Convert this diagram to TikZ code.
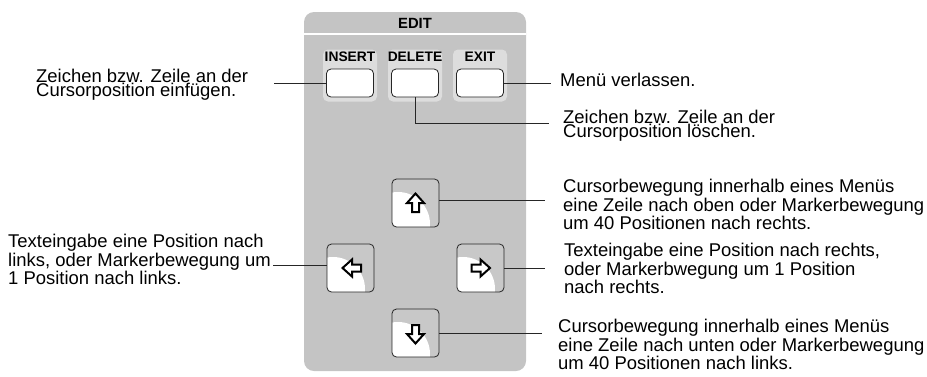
\documentclass[tikz,border=0pt]{standalone}
\usepackage{fontspec}
\setmainfont{Liberation Sans}
\usetikzlibrary{calc}
\definecolor{panelgray}{RGB}{196,196,196}
\definecolor{labelgray}{RGB}{221,221,221}
\definecolor{btngray}{RGB}{200,200,200}
\pgfdeclareradialshading{blob}{\pgfpoint{0bp}{0bp}}{color(0bp)=(white); color(36bp)=(white); color(44bp)=(btngray); color(50bp)=(btngray)}
\tikzset{
  desc/.style={anchor=north west, inner sep=0pt, align=left, font=\fontsize{18.45}{13.9}\selectfont},
  lbl/.style={inner sep=0pt, font=\fontsize{13.8}{14}\selectfont\bfseries},
  lblbox/.style={fill=labelgray, rounded corners=5pt, minimum width=54pt, minimum height=52pt, inner sep=0pt},
  keybtn/.style={draw=black!85, line width=0.8pt, fill=white, rounded corners=4.5pt, minimum width=47pt, minimum height=28pt, inner sep=0pt},
  arrbtn/.style={draw=black!85, line width=0.8pt, fill=btngray, rounded corners=4.5pt, minimum width=47pt, minimum height=48pt, inner sep=0pt,
    path picture={\shade[shading=blob] ($(path picture bounding box.south west)+(6,-3)$) circle (32pt);}},
  leader/.style={draw=black!85, line width=0.8pt},
  glyph/.style={draw=black, line width=2pt, fill=white, line join=miter},
  pics/blockarrow/.style={code={\path[glyph] (0,-9.5) -- (8.5,0) -- (3.5,0) -- (3.5,9) -- (-3.5,9) -- (-3.5,0) -- (-8.5,0) -- cycle;}}
}
\begin{document}
\begin{tikzpicture}[x=1pt,y=-1pt]
\useasboundingbox (0,0) rectangle (927,376);
% panel
\path[fill=panelgray, rounded corners=10pt] (304,12) rectangle (526,371);
\draw[white, line width=2pt] (304,34) -- (526,34);
\node[lbl, font=\fontsize{14.8}{15}\selectfont\bfseries] (edit) at (415,23) {EDIT};
% label boxes and keys
\node[lblbox] (insbox) at (350,75.5) {};
\node[lblbox] (delbox) at (415,75.5) {};
\node[lblbox] (exitbox) at (480,75.5) {};
\node[lbl] (inslbl) at (350,57) {INSERT};
\node[lbl] (dellbl) at (415,57) {DELETE};
\node[lbl] (exitlbl) at (480,57) {EXIT};
\node[keybtn] (ins) at (350,83) {};
\node[keybtn] (del) at (415,83) {};
\node[keybtn] (exit) at (480,83) {};
% arrow keys
\node[arrbtn] (up) at (415.5,203) {};
\node[arrbtn] (left) at (350.5,268) {};
\node[arrbtn] (right) at (480.5,268) {};
\node[arrbtn] (down) at (415.5,333) {};
\pic at (up.center) {blockarrow};
\pic[rotate=90] at ([xshift=1.5pt]left.center) {blockarrow};
\pic[rotate=-90] at (right.center) {blockarrow};
\pic[rotate=180] at ([yshift=-1pt]down.center) {blockarrow};
% descriptions
\node[desc] (instext) at (36,69.4) {Zeichen bzw. Zeile an der\\Cursorposition einfügen.};
\node[desc] (exittext) at (560,73.4) {Menü verlassen.};
\node[desc] (deltext) at (563,109.8) {Zeichen bzw. Zeile an der\\Cursorposition löschen.};
\node[desc] (uptext) at (563,179.4) {Cursorbewegung innerhalb eines Menüs\\eine Zeile nach oben oder Markerbewegung\\um 40 Positionen nach rechts.};
\node[desc] (righttext) at (564,243.4) {Texteingabe eine Position nach rechts,\\oder Markerbwegung um 1 Position\\nach rechts.};
\node[desc] (downtext) at (558,319.4) {Cursorbewegung innerhalb eines Menüs\\eine Zeile nach unten oder Markerbewegung\\um 40 Positionen nach links.};
\node[desc] (lefttext) at (8,234.4) {Texteingabe eine Position nach\\links, oder Markerbewegung um\\1 Position nach links.};
% leader end points
\coordinate (insend) at (274,83);
\coordinate (exitend) at (551,83);
\coordinate (delend) at (549,123.5);
\coordinate (upend) at (545,200);
\coordinate (rightend) at (545,268);
\coordinate (downend) at (542,333);
\coordinate (leftend) at (273,265);
% leaders
\draw[leader] (insend) -- (ins.west);
\draw[leader] (exit.east) -- (exitend);
\draw[leader] (del.south) |- (delend);
\draw[leader] (up.east |- upend) -- (upend);
\draw[leader] (right.east) -- (rightend);
\draw[leader] (down.east) -- (downend);
\draw[leader] (leftend) -- (left.west |- leftend);
\end{tikzpicture}
\end{document}
